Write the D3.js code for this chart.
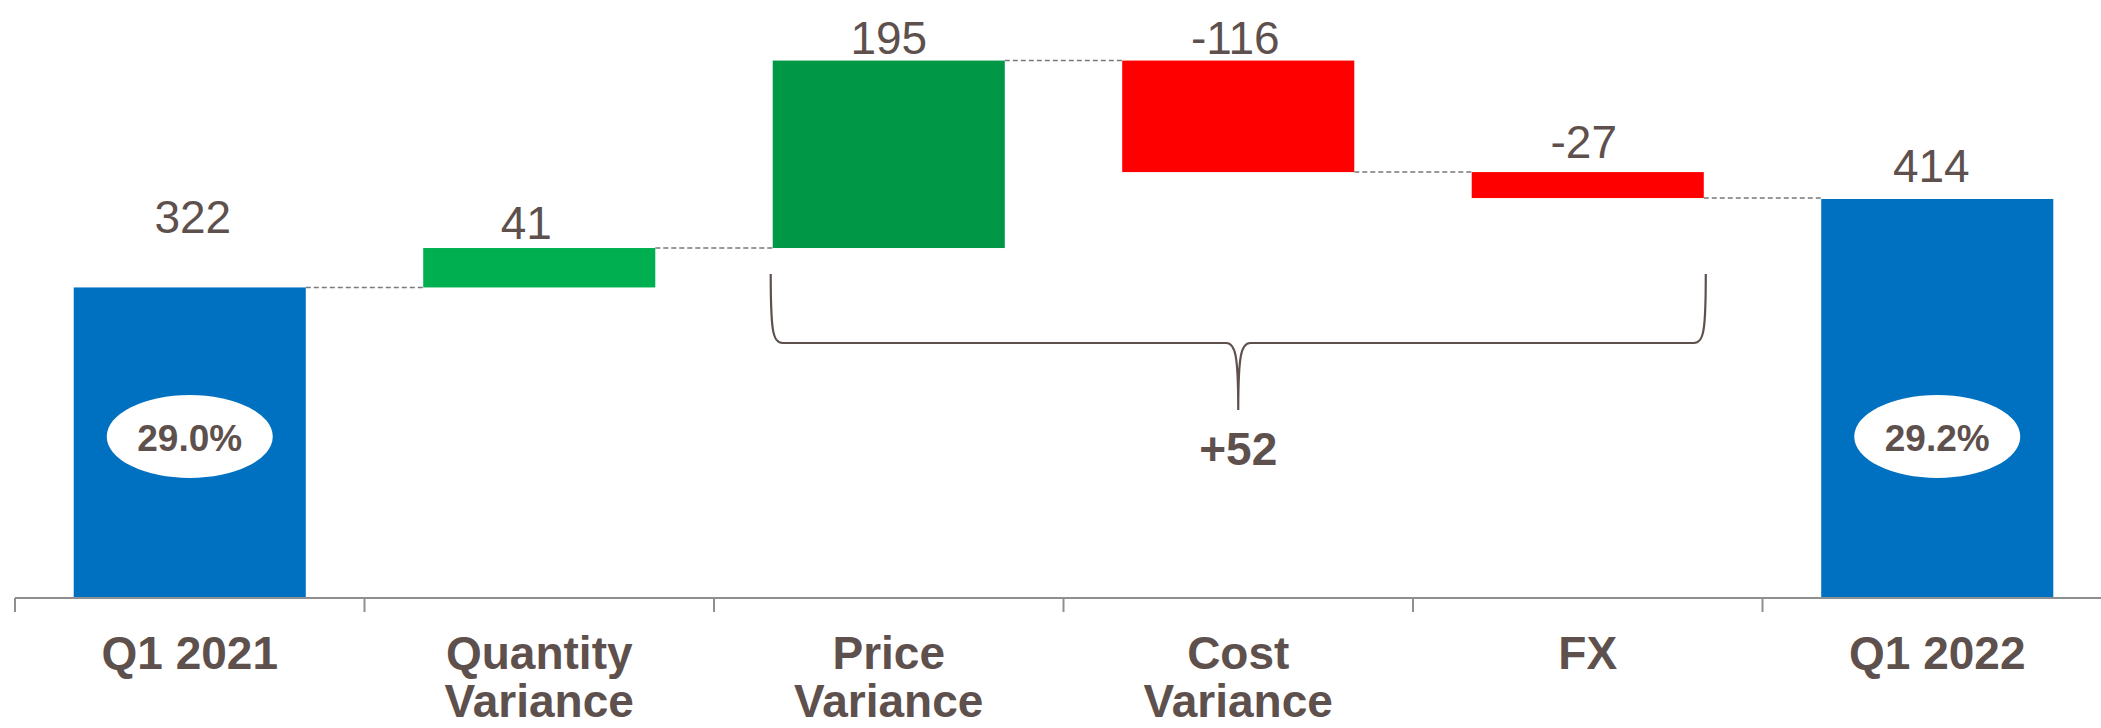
<!DOCTYPE html>
<html>
<head>
<meta charset="utf-8">
<script src="https://cdn.jsdelivr.net/npm/d3@7"></script>
<style>
  html, body { margin: 0; padding: 0; background: #ffffff; }
  svg { display: block; font-family: "Liberation Sans", Arial, sans-serif; }
</style>
</head>
<body>
<svg id="chart" width="2101" height="728"></svg>
<script>
// Margin bridge, Q1 2021 -> Q1 2022
const categories = ["Q1 2021", "Quantity Variance", "Price Variance", "Cost Variance", "FX", "Q1 2022"];
const values = [322, 41, 195, -116, -27, 414];
const isTotal = [true, false, false, false, false, true];
const marginPct = ["29.0%", "", "", "", "", "29.2%"];
// Steps grouped under the brace
const bracedSteps = ["Price Variance", "Cost Variance", "FX"];

// Styling
const TEXT = "#5e504c";
const AXIS = "#8f8f8f";
const COLOR_TOTAL = "#0070c0";
const COLOR_UP = ["#00b050", "#009846"];
const COLOR_DOWN = "#ff0000";
const labelLift = [54, 9.5, 7, 7, 14, 17.5];
const labelShift = [3, -13, 0, -3, -4, -6];

const svg = d3.select("#chart");

const x = d3.scaleBand()
  .domain(categories)
  .range([15, 2112])
  .paddingInner(0.336)
  .paddingOuter(0.168);
const y = d3.scaleLinear().domain([0, 621]).range([597, 0]);
const bw = x.bandwidth();
const half = x.step() * x.paddingInner() / 2;

// running totals
let run = 0;
const steps = categories.map((c, i) => {
  let start, end;
  if (isTotal[i]) { start = 0; end = values[i]; }
  else { start = run; end = run + values[i]; }
  run = end;
  return { cat: c, i, v: values[i], start, end, total: isTotal[i] };
});

let upCount = 0;
steps.forEach(s => {
  if (s.total) s.color = COLOR_TOTAL;
  else if (s.v >= 0) s.color = COLOR_UP[Math.min(upCount++, COLOR_UP.length - 1)];
  else s.color = COLOR_DOWN;
});

// bars
svg.append("g").selectAll("rect")
  .data(steps).join("rect")
  .attr("x", d => x(d.cat))
  .attr("y", d => y(Math.max(d.start, d.end)))
  .attr("width", bw)
  .attr("height", d => Math.abs(y(d.start) - y(d.end)))
  .attr("fill", d => d.color);

// dashed connectors between bars
svg.append("g").selectAll("line")
  .data(steps.slice(0, -1)).join("line")
  .attr("x1", d => x(d.cat) + bw)
  .attr("x2", d => x(categories[d.i + 1]))
  .attr("y1", d => y(d.end))
  .attr("y2", d => y(d.end))
  .attr("stroke", "#7a7a7a")
  .attr("stroke-width", 1.5)
  .attr("stroke-dasharray", "5,3");

// value labels
svg.append("g").selectAll("text")
  .data(steps).join("text")
  .attr("x", d => x(d.cat) + bw / 2 + labelShift[d.i])
  .attr("y", d => y(Math.max(d.start, d.end)) - labelLift[d.i])
  .attr("text-anchor", "middle")
  .attr("font-size", 46)
  .attr("fill", TEXT)
  .text(d => String(d.v));

// margin badges on the total bars
const badges = svg.append("g").selectAll("g")
  .data(steps.filter(d => marginPct[d.i])).join("g")
  .attr("transform", d => `translate(${x(d.cat) + bw / 2},436.5)`);
badges.append("ellipse")
  .attr("rx", 83).attr("ry", 41.5)
  .attr("fill", "#ffffff");
badges.append("text")
  .attr("y", 14)
  .attr("text-anchor", "middle")
  .attr("font-size", 37)
  .attr("font-weight", "bold")
  .attr("fill", TEXT)
  .text(d => marginPct[d.i]);

// category axis
const axis = svg.append("g");
axis.append("line")
  .attr("x1", x.range()[0]).attr("x2", x.range()[1])
  .attr("y1", 598).attr("y2", 598)
  .attr("stroke", AXIS).attr("stroke-width", 2);
axis.selectAll(".tick")
  .data(categories).join("line")
  .attr("class", "tick")
  .attr("x1", d => x(d) - half).attr("x2", d => x(d) - half)
  .attr("y1", 598).attr("y2", 612)
  .attr("stroke", AXIS).attr("stroke-width", 2);

const catLabels = axis.selectAll(".cat")
  .data(categories).join("text")
  .attr("class", "cat")
  .attr("text-anchor", "middle")
  .attr("font-size", 46)
  .attr("font-weight", "bold")
  .attr("fill", TEXT);
catLabels.each(function (d) {
  const words = d.startsWith("Q1") ? [d] : d.split(" ");
  const t = d3.select(this);
  words.forEach((w, k) => {
    t.append("tspan")
      .attr("x", x(d) + bw / 2)
      .attr("y", 669 + k * 48)
      .text(w);
  });
});

// brace under the grouped steps, with their combined effect
const bx0 = x(bracedSteps[0]) - 2;
const bx1 = x(bracedSteps[bracedSteps.length - 1]) + bw + 2;
const bmid = (bx0 + bx1) / 2;
const bTop = 274, bLine = 343, bTip = 410;
const brace = d3.path();
brace.moveTo(bx0, bTop);
brace.bezierCurveTo(bx0, bLine - 12, bx0 + 2, bLine, bx0 + 12, bLine);
brace.lineTo(bmid - 12, bLine);
brace.bezierCurveTo(bmid - 3, bLine, bmid, bLine + 12, bmid, bTip);
brace.moveTo(bmid, bTip);
brace.bezierCurveTo(bmid, bLine + 12, bmid + 3, bLine, bmid + 12, bLine);
brace.lineTo(bx1 - 12, bLine);
brace.bezierCurveTo(bx1 - 2, bLine, bx1, bLine - 12, bx1, bTop);
svg.append("path")
  .attr("d", brace.toString())
  .attr("fill", "none")
  .attr("stroke", TEXT)
  .attr("stroke-width", 2.2);

const bracedSum = d3.sum(steps.filter(s => bracedSteps.includes(s.cat)), s => s.v);
svg.append("text")
  .attr("x", bmid)
  .attr("y", 465)
  .attr("text-anchor", "middle")
  .attr("font-size", 46)
  .attr("font-weight", "bold")
  .attr("fill", TEXT)
  .text((bracedSum >= 0 ? "+" : "") + bracedSum);
</script>
</body>
</html>
